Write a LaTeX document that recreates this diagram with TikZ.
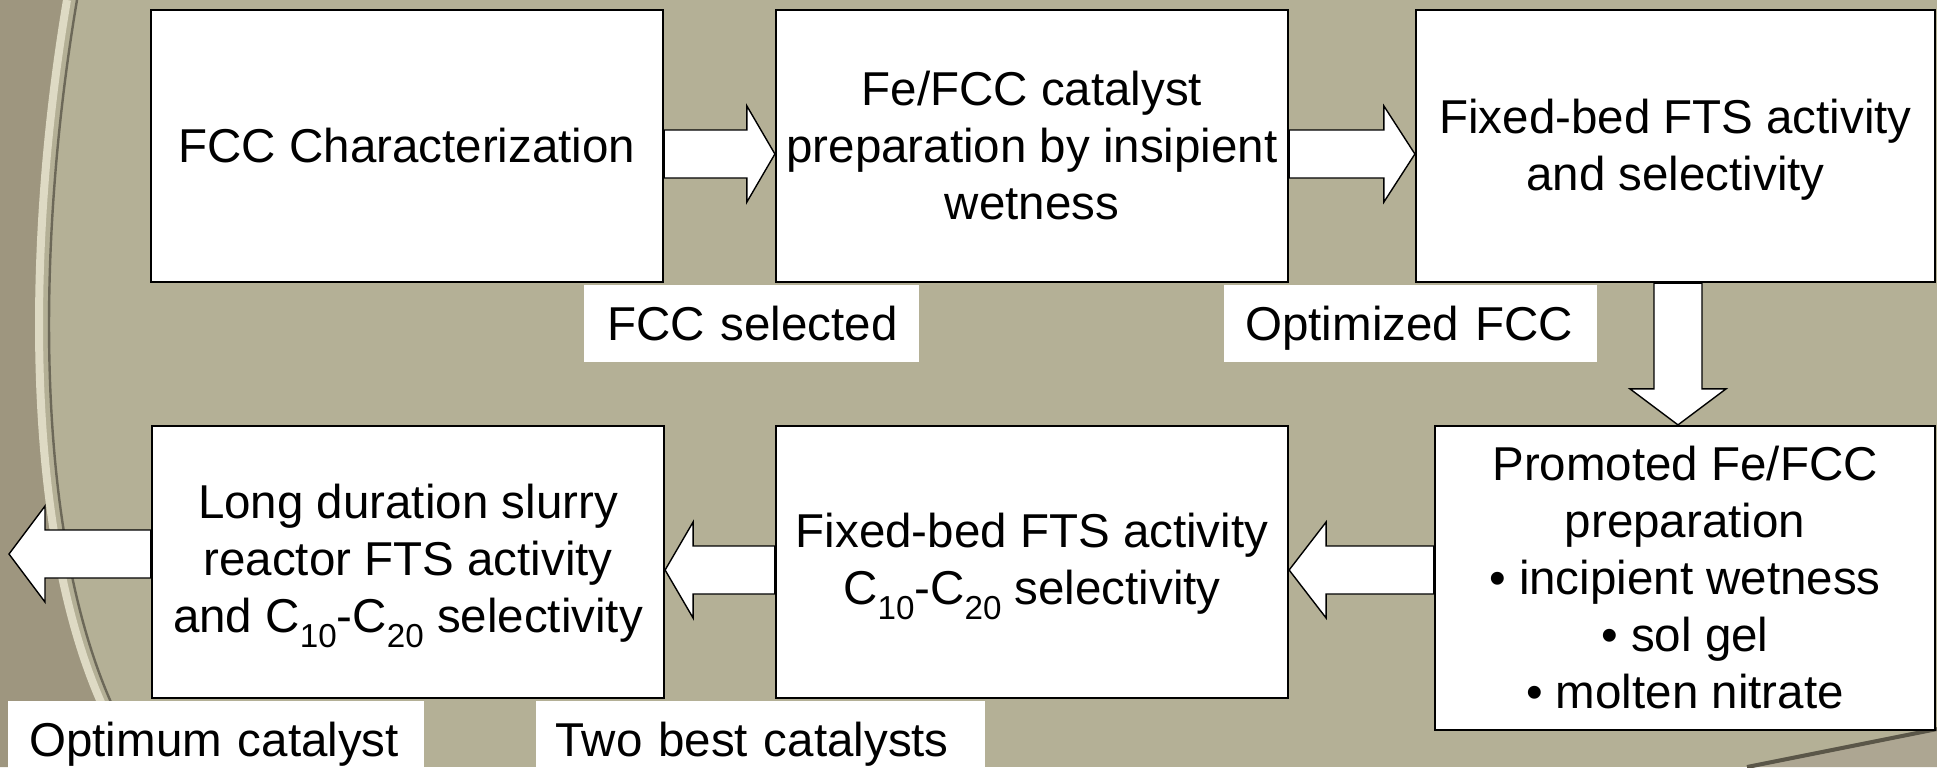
\documentclass[tikz,border=0pt]{standalone}
\usepackage{fontspec}
\setmainfont{Liberation Sans}
\usetikzlibrary{calc}
\newcommand\lsx{\rule[-0.212em]{0pt}{1.117em}}
\newcommand\subx[1]{\raisebox{-0.32em}{\fontsize{16.6pt}{16.6pt}\selectfont #1}}
\definecolor{bgmain}{RGB}{180,176,150}
\definecolor{bgleft}{RGB}{158,150,127}
\definecolor{bgcream}{RGB}{222,218,196}
\definecolor{bgdark}{RGB}{90,86,72}
\newcommand\harrow[4]{%
  \coordinate (hs) at (#1 |- #3);
  \coordinate (he) at (#2 |- #3);
  \draw[barrow] ($(hs)+(0,-24)$) -- ($(he)+(#4,-24)$) -- ($(he)+(#4,-48)$) -- (he)
    -- ($(he)+(#4,48)$) -- ($(he)+(#4,24)$) -- ($(hs)+(0,24)$) -- cycle;}
\begin{document}
\begin{tikzpicture}[x=0.5pt,y=-0.5pt,
  txt/.style={font=\fontsize{23.75pt}{28.5pt}\selectfont},
  box/.style={txt, draw=black, line width=1.1pt, fill=white, rectangle, inner sep=0pt,
    align=center, minimum width=256pt, minimum height=136pt},
  lab/.style={txt, fill=white, rectangle, inner ysep=0pt, align=left,
    minimum height=38.5pt, anchor=north west},
  barrow/.style={draw=black, line width=0.7pt, fill=white, line join=miter}]
\useasboundingbox (0,0) rectangle (1937,767);
\clip (0,0) rectangle (1937,767);
% background
\fill[bgmain] (0,0) rectangle (1937,767);
\fill[bgleft] (0,0) -- (67,0) .. controls (28,230) and (22,520) .. (100,700)
  -- (129,767) -- (0,767) -- cycle;
\draw[bgdark!80!bgmain, line width=1.2pt] (77,0) .. controls (38,230) and (32,520) .. (110,700) -- (139,767);
\draw[bgcream, line width=4pt] (67,0) .. controls (28,230) and (22,520) .. (100,700) -- (129,767);
\fill[bgleft!85!white] (1747,767) -- (1937,729) -- (1937,767) -- cycle;
\draw[bgdark, line width=2pt] (1747,767) -- (1937,729);
% coordinates for connectors
\coordinate (ytop) at (0,154);
\coordinate (ybot) at (0,570);
\coordinate (yout) at (0,554);
\coordinate (xd) at (1678,0);
\coordinate (out) at (9,554);
% boxes (positions)
\path (407,146) node[box, name=b1] {};
\path (1032,146) node[box, name=b2] {};
\path (1675.5,146) node[box, name=b3, minimum width=259.5pt] {};
\path (1685,578) node[box, name=b4, minimum width=250pt, minimum height=152pt] {};
\path (1032,562) node[box, name=b5] {};
\path (408,562) node[box, name=b6] {};
% arrows
\harrow{b1.east}{b2.west}{ytop}{-28}
\harrow{b2.east}{b3.west}{ytop}{-31}
\harrow{b4.west}{b5.east}{ybot}{37}
\harrow{b5.west}{b6.east}{ybot}{28}
\harrow{b6.west}{out}{yout}{36}
\coordinate (ds) at (b3.south -| xd);
\coordinate (de) at (b4.north -| xd);
\draw[barrow] ($(ds)+(-24,0)$) -- ($(de)+(-24,-36)$) -- ($(de)+(-48,-36)$) -- (de)
  -- ($(de)+(48,-36)$) -- ($(de)+(24,-36)$) -- ($(ds)+(24,0)$) -- cycle;
% boxes with text
\node[box] at (b1) {\lsx FCC Characterization};
\node[box] at (b2) {\lsx Fe/FCC catalyst\\\lsx preparation by insipient\\\lsx wetness};
\node[box, minimum width=259.5pt] at (b3) {\lsx Fixed-bed FTS activity\\\lsx and selectivity};
\node[box, minimum width=250pt, minimum height=152pt] at (b4)
  {\lsx Promoted Fe/FCC\\\lsx preparation\\\lsx • incipient wetness\\\lsx • sol gel\\\lsx • molten nitrate};
\node[box] at (b5) {\lsx Fixed-bed FTS activity\\\lsx C\subx{10}-C\subx{20} selectivity};
\node[box] at (b6) {\lsx Long duration slurry\\\lsx reactor FTS activity\\\lsx and C\subx{10}-C\subx{20} selectivity};
% labels
\node[lab, inner xsep=11.5pt, text width=144.5pt] (l1) at (584,285) {\mbox{\lsx FCC selected}};
\node[lab, inner xsep=10.5pt, text width=165.5pt] (l2) at (1224,285) {\mbox{\lsx Optimized FCC}};
\node[lab, inner xsep=10.5pt, text width=187pt] (l3) at (8,701) {\mbox{\lsx Optimum catalyst}};
\node[lab, inner xsep=9.5pt, text width=205.5pt] (l4) at (536,701) {\mbox{\lsx Two best catalysts}};
\end{tikzpicture}
\end{document}
